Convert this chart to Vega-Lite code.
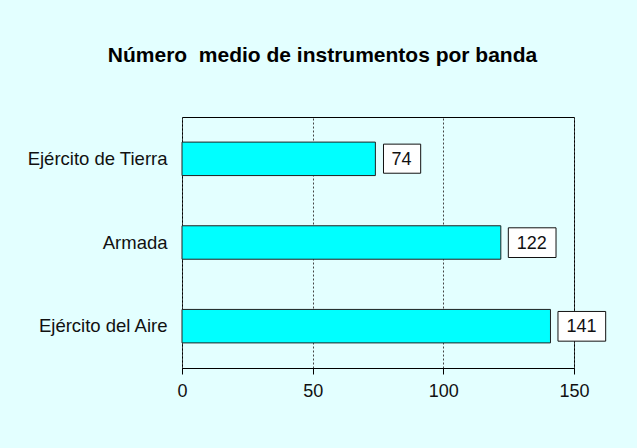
{
  "$schema": "https://vega.github.io/schema/vega-lite/v6.json",
  "width": 392,
  "height": 251,
  "autosize": {"type": "none"},
  "padding": {"left": 182, "top": 117, "right": 63, "bottom": 80},
  "background": "#e3ffff",
  "title": {
    "text": "Número \u00a0medio de instrumentos por banda",
    "font": "Liberation Sans",
    "fontSize": 21,
    "fontWeight": "bold",
    "color": "#000000",
    "anchor": "middle",
    "frame": "group",
    "dx": -55.5,
    "baseline": "alphabetic",
    "offset": 34
  },
  "data": {
    "values": [
      {"fuerza": "Ejército de Tierra", "value": 74},
      {"fuerza": "Armada", "value": 122},
      {"fuerza": "Ejército del Aire", "value": 141}
    ]
  },
  "encoding": {
    "y": {
      "field": "fuerza",
      "type": "nominal",
      "sort": null,
      "title": null,
      "scale": {"paddingInner": 0.6, "paddingOuter": 0.3},
      "axis": {
        "ticks": false,
        "domain": false,
        "labelFont": "Liberation Sans",
        "labelFontSize": 18.5,
        "labelColor": "#111111",
        "labelPadding": 15
      }
    },
    "x": {
      "field": "value",
      "type": "quantitative",
      "title": null,
      "scale": {"domain": [0, 150], "nice": false},
      "axis": {
        "values": [0, 50, 100, 150],
        "grid": true,
        "gridColor": "#444444",
        "gridDash": [2, 2],
        "gridWidth": 1,
        "domainColor": "#000000",
        "tickColor": "#000000",
        "tickSize": 6,
        "labelFont": "Liberation Sans",
        "labelFontSize": 18,
        "labelColor": "#111111",
        "labelPadding": 8,
        "labelFlush": false
      }
    }
  },
  "config": {
    "view": {"stroke": "#000000", "strokeWidth": 1, "fill": null}
  },
  "layer": [
    {
      "mark": {"type": "bar", "fill": "#00ffff", "stroke": "#222222", "strokeWidth": 1}
    },
    {
      "mark": {"type": "point", "filled": true, "fill": "#ffffff", "stroke": "#111111", "strokeWidth": 1, "opacity": 1, "fillOpacity": 1, "size": 3600},
      "encoding": {
        "shape": {
          "condition": {"test": "datum.value >= 100", "value": "M0.25,-0.49L1.84,-0.49L1.84,0.5L0.25,0.5Z"},
          "value": "M0.27,-0.49L1.51,-0.49L1.51,0.48L0.27,0.48Z"
        }
      }
    },
    {
      "mark": {"type": "text", "align": "left", "baseline": "middle", "dx": 16, "dy": 1, "font": "Liberation Sans", "fontSize": 18, "color": "#111111"},
      "encoding": {"text": {"field": "value", "type": "quantitative"}}
    }
  ]
}
